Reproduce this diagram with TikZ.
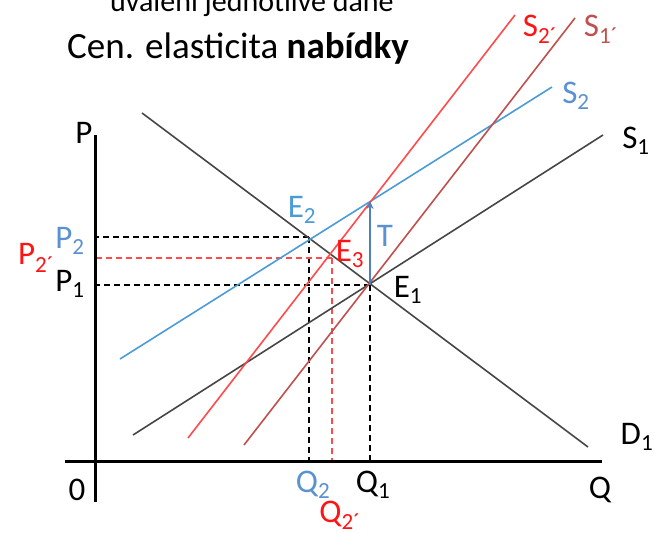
\documentclass[tikz,border=0pt]{standalone}
\usepackage{fontspec}
\setmainfont{Carlito}
\usetikzlibrary{arrows.meta}
\definecolor{sblue}{RGB}{75,155,215}
\definecolor{tblue}{RGB}{91,145,210}
\definecolor{bred}{RGB}{255,75,75}
\definecolor{dred}{RGB}{192,80,77}
\definecolor{lred}{RGB}{255,20,20}
\definecolor{gline}{RGB}{70,70,70}
\definecolor{ablue}{RGB}{79,129,189}
\begin{document}
\begin{tikzpicture}[x=1pt,y=-1pt,
  lbl/.style={inner sep=0pt, font=\fontsize{33}{34}\selectfont},
  curve/.style={line width=1.6pt},
  axisline/.style={line width=3pt, black},
  guide/.style={line width=1.3pt, dash pattern=on 6pt off 4pt}]
\useasboundingbox (0,0) rectangle (654,533);
% top cut-off text and title
\node[anchor=base west, inner sep=0pt, font=\fontsize{30}{30}\selectfont] (sub) at (110,11) {uvalení jednotlivé daně};
\node[anchor=west, inner sep=0pt, font=\fontsize{37}{38}\selectfont] (title) at (67,48) {Cen. elasticita \textbf{nabídky}};
% coordinates
\coordinate (ya) at (95,135); \coordinate (yb) at (95,502);
\coordinate (xa) at (65,461); \coordinate (xb) at (602,461);
\coordinate (D1a) at (142,113); \coordinate (D1b) at (588,447);
\coordinate (S1a) at (133,435); \coordinate (S1b) at (603,135);
\coordinate (S2a) at (120,359); \coordinate (S2b) at (552,87);
\coordinate (S2pa) at (188,438); \coordinate (S2pb) at (515,15);
\coordinate (S1pa) at (244,445); \coordinate (S1pb) at (575,18);
\coordinate (E1) at (370,285); \coordinate (E2) at (309,237); \coordinate (E3) at (332,258);
\coordinate (Ttop) at (370,201);
\coordinate (E1y) at (95,285); \coordinate (E1x) at (370,461);
\coordinate (E2y) at (95,237); \coordinate (E2x) at (309,461);
\coordinate (E3y) at (95,258); \coordinate (E3x) at (332,461);
% guides
\draw[guide, black] (E2) -- (E2y); \draw[guide, black] (E2) -- (E2x);
\draw[guide, black] (E1) -- (E1y); \draw[guide, black] (E1) -- (E1x);
\draw[guide, bred] (E3) -- (E3y); \draw[guide, bred] (E3) -- (E3x);
% curves
\draw[curve, gline] (D1a) -- (D1b);
\draw[curve, gline] (S1a) -- (S1b);
\draw[curve, sblue] (S2a) -- (S2b);
\draw[curve, bred] (S2pa) -- (S2pb);
\draw[curve, dred] (S1pa) -- (S1pb);
\draw[line width=1.6pt, ablue, -{Stealth[length=8pt,width=7pt]}] (E1) -- (Ttop);
% axes
\draw[axisline] (ya) -- (yb);
\draw[axisline] (xa) -- (xb);
% labels
\node[lbl] (lP) at (84,133) {P};
\node[lbl, text=tblue] (lP2) at (70,241) {P\textsubscript{2}};
\node[lbl, text=lred] (lP2p) at (36,258) {P\textsubscript{2´}};
\node[lbl] (lP1) at (70,284) {P\textsubscript{1}};
\node[lbl] (lO) at (77,490) {0};
\node[lbl] (lQ) at (600,490) {Q};
\node[lbl, text=tblue] (lQ2) at (313,485) {Q\textsubscript{2}};
\node[lbl] (lQ1) at (373,485) {Q\textsubscript{1}};
\node[lbl, text=lred] (lQ2p) at (340,515) {Q\textsubscript{2´}};
\node[lbl, text=sblue] (lE2) at (302,210) {E\textsubscript{2}};
\node[lbl, text=lred] (lE3) at (350,254) {E\textsubscript{3}};
\node[lbl, text=tblue] (lT) at (385,236) {T};
\node[lbl] (lE1) at (408,290) {E\textsubscript{1}};
\node[lbl, text=lred] (lS2p) at (540,29) {S\textsubscript{2´}};
\node[lbl, text=dred] (lS1p) at (601,29) {S\textsubscript{1´}};
\node[lbl, text=tblue] (lS2) at (576,96) {S\textsubscript{2}};
\node[lbl] (lS1) at (636,141) {S\textsubscript{1}};
\node[lbl] (lD1) at (637,437) {D\textsubscript{1}};
\end{tikzpicture}
\end{document}
